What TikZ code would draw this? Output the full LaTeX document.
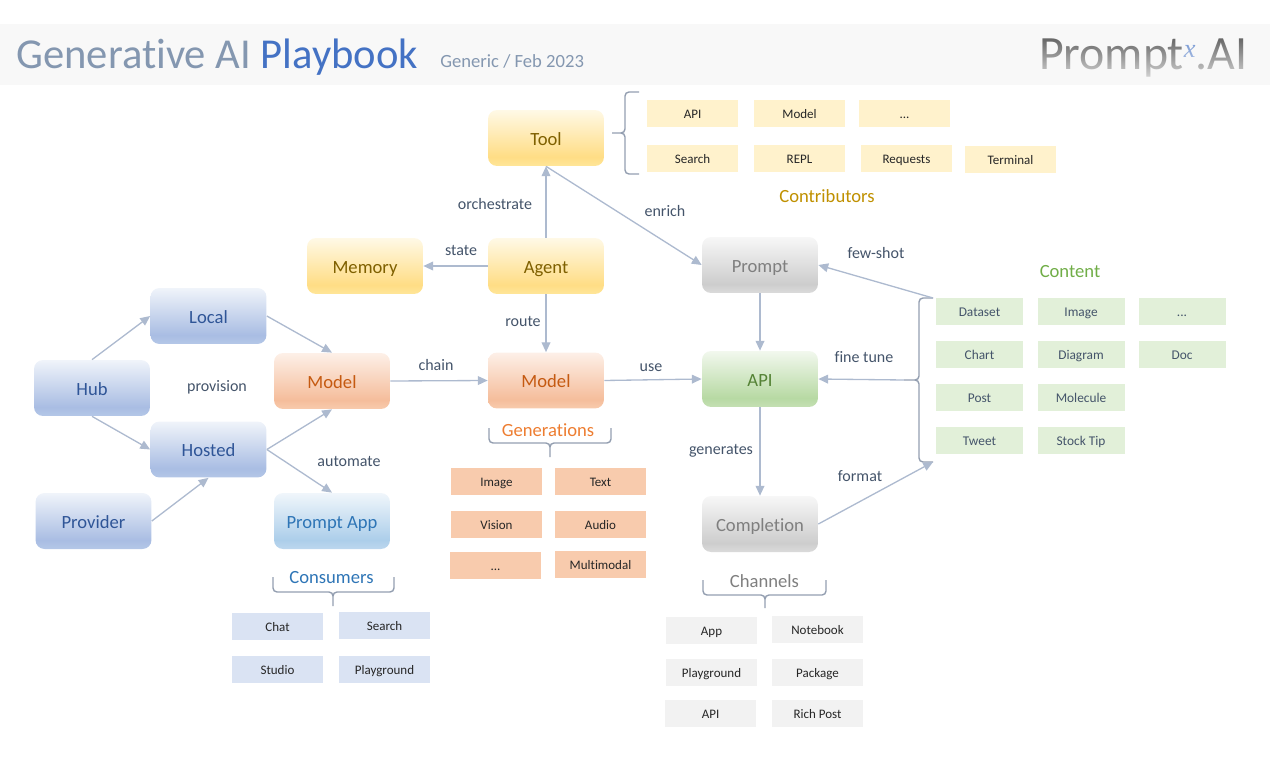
\documentclass[tikz,border=0pt]{standalone}
\usepackage{fontspec}
\setmainfont{Carlito}[Ligatures=NoCommon]
\newfontfamily\logofont{Liberation Serif}
\usepackage{xcolor}
\usetikzlibrary{calc,arrows.meta,fadings}

\definecolor{bandgray}{HTML}{F8F8F8}
\definecolor{linkblue}{HTML}{ADBACF}
\definecolor{slatetxt}{HTML}{44546A}
\definecolor{titlegray}{HTML}{8497B0}
\definecolor{titleblue}{HTML}{4472C4}

\definecolor{hubA}{HTML}{F0F4FA}\definecolor{hubB}{HTML}{A9BDE3}\definecolor{hubC}{HTML}{B4C7E7}
\definecolor{toolA}{HTML}{FFF9E6}\definecolor{toolB}{HTML}{FFDD85}\definecolor{toolC}{HTML}{FFE699}
\definecolor{modelA}{HTML}{FDF0E8}\definecolor{modelB}{HTML}{F5BD9B}\definecolor{modelC}{HTML}{F8CBAD}
\definecolor{appA}{HTML}{F0F6FB}\definecolor{appB}{HTML}{ACCEEA}\definecolor{appC}{HTML}{BDD7EE}
\definecolor{apiA}{HTML}{F2F8EE}\definecolor{apiB}{HTML}{B7D9A3}\definecolor{apiC}{HTML}{C5E0B4}
\definecolor{grayA}{HTML}{F7F7F7}\definecolor{grayB}{HTML}{CDCDCD}\definecolor{grayC}{HTML}{DBDBDB}

\pgfdeclareverticalshading{hubshade}{100bp}{color(0bp)=(hubC); color(25bp)=(hubC); color(33bp)=(hubB); color(75bp)=(hubA); color(100bp)=(hubA)}
\pgfdeclareverticalshading{toolshade}{100bp}{color(0bp)=(toolC); color(25bp)=(toolC); color(33bp)=(toolB); color(75bp)=(toolA); color(100bp)=(toolA)}
\pgfdeclareverticalshading{modelshade}{100bp}{color(0bp)=(modelC); color(25bp)=(modelC); color(33bp)=(modelB); color(75bp)=(modelA); color(100bp)=(modelA)}
\pgfdeclareverticalshading{appshade}{100bp}{color(0bp)=(appC); color(25bp)=(appC); color(33bp)=(appB); color(75bp)=(appA); color(100bp)=(appA)}
\pgfdeclareverticalshading{apishade}{100bp}{color(0bp)=(apiC); color(25bp)=(apiC); color(33bp)=(apiB); color(75bp)=(apiA); color(100bp)=(apiA)}
\pgfdeclareverticalshading{grayshade}{100bp}{color(0bp)=(grayC); color(25bp)=(grayC); color(33bp)=(grayB); color(75bp)=(grayA); color(100bp)=(grayA)}

\tikzset{
  boxnode/.style={rounded corners=.18cm,minimum width=2.32cm,minimum height=1.12cm,inner sep=0pt,text height=8pt,text depth=0pt,font=\fontsize{10.6}{12}\selectfont},
  hubbox/.style={boxnode,shading=hubshade,text={rgb,255:red,47;green,85;blue,151}},
  toolbox/.style={boxnode,shading=toolshade,text={rgb,255:red,127;green,96;blue,0}},
  modelbox/.style={boxnode,shading=modelshade,text={rgb,255:red,197;green,90;blue,17}},
  appbox/.style={boxnode,shading=appshade,text={rgb,255:red,46;green,117;blue,182}},
  apibox/.style={boxnode,shading=apishade,text={rgb,255:red,84;green,130;blue,53}},
  graybox/.style={boxnode,shading=grayshade,text={rgb,255:red,127;green,127;blue,127}},
  tagnode/.style={minimum width=1.82cm,minimum height=.54cm,inner sep=0pt,text height=5.7pt,text depth=0pt,text={rgb,255:red,38;green,38;blue,38},font=\fontsize{7.4}{9}\selectfont},
  yellowtag/.style={tagnode,fill={rgb,255:red,255;green,242;blue,204}},
  orangetag/.style={tagnode,fill={rgb,255:red,248;green,203;blue,173}},
  bluetag/.style={tagnode,fill={rgb,255:red,218;green,227;blue,243}},
  graytag/.style={tagnode,fill={rgb,255:red,242;green,242;blue,242}},
  greentag/.style={tagnode,minimum width=1.74cm,text=slatetxt,font=\fontsize{7.6}{9}\selectfont,fill={rgb,255:red,226;green,240;blue,217}},
  linklabel/.style={inner sep=0pt,text=slatetxt,font=\fontsize{9.1}{11}\selectfont},
  grouplabel/.style={inner sep=0pt,font=\fontsize{10.6}{12}\selectfont},
  link/.style={draw=linkblue,line width=.75pt,-{Triangle[length=5.6pt,width=5pt]}},
  bracket/.style={draw=linkblue!85!black,line width=.8pt,rounded corners=.08cm}
}

\begin{document}
\begin{tikzpicture}[x=.02cm,y=-.02cm]
\useasboundingbox (0,0) rectangle (1270,760);
\fill[bandgray] (0,24) rectangle (1270,85);

% title
\node[anchor=base west,inner sep=0pt,font=\fontsize{24.25}{28}\selectfont] (title) at (16,69) {\textcolor{titlegray}{Generative AI} \textcolor{titleblue}{Playbook}};
\node[anchor=base west,inner sep=0pt,text=titlegray,font=\fontsize{10.6}{12}\selectfont] (subtitle) at (440,68) {Generic / Feb 2023};
\node[anchor=base east,inner sep=0pt,text=black!62,font=\fontsize{27.2}{30}\selectfont] (logo) at (1248,70) {Prompt\raisebox{.27em}{\textcolor{titleblue!80}{\logofont\fontsize{15}{15}\selectfont\itshape x}}.AI};
\fill[bandgray,path fading=north,fill opacity=.8] (1030,36) rectangle (1255,80);

% main boxes
\node[toolbox] (tool) at (546,138) {Tool};
\node[toolbox] (agent) at (546,266) {Agent};
\node[toolbox] (memory) at (365,266) {Memory};
\node[hubbox] (local) at (208.5,316) {Local};
\node[hubbox] (hub) at (92,388) {Hub};
\node[hubbox] (hosted) at (208.5,449.5) {Hosted};
\node[hubbox] (provider) at (93.5,521) {Provider};
\node[modelbox] (modelA) at (332,381) {Model};
\node[modelbox] (modelB) at (546,380.5) {Model};
\node[appbox] (app) at (332,521) {Prompt App};
\node[graybox] (prompt) at (760,265) {Prompt};
\node[apibox] (api) at (760,379) {API};
\node[graybox] (completion) at (760,524) {Completion};

% contributors
\node[yellowtag] (c1) at (692.5,113.5) {API};
\node[yellowtag] (c2) at (799.5,113.5) {Model};
\node[yellowtag] (c3) at (904.5,113.5) {...};
\node[yellowtag] (c4) at (692.5,158.5) {Search};
\node[yellowtag] (c5) at (799.5,158.5) {REPL};
\node[yellowtag] (c6) at (906.5,158.5) {Requests};
\node[yellowtag] (c7) at (1010.5,159.5) {Terminal};
\node[grouplabel,text={rgb,255:red,191;green,144;blue,0}] (contributors) at (827,196) {Contributors};

% generations
\node[orangetag] (g1) at (496.5,481.5) {Image};
\node[orangetag] (g2) at (600.5,481.5) {Text};
\node[orangetag] (g3) at (496.5,524.5) {Vision};
\node[orangetag] (g4) at (600.5,524.5) {Audio};
\node[orangetag] (g5) at (495.5,565.5) {...};
\node[orangetag] (g6) at (600.5,564.5) {Multimodal};
\node[grouplabel,text={rgb,255:red,237;green,125;blue,49}] (generations) at (548,430) {Generations};

% consumers
\node[bluetag] (u1) at (277.5,626.5) {Chat};
\node[bluetag] (u2) at (384.5,625.5) {Search};
\node[bluetag] (u3) at (277.5,669.5) {Studio};
\node[bluetag] (u4) at (384.5,669.5) {Playground};
\node[grouplabel,text={rgb,255:red,46;green,117;blue,182}] (consumers) at (331.5,578) {Consumers};

% channels
\node[graytag] (h1) at (711.5,630) {App};
\node[graytag] (h2) at (817.5,629.5) {Notebook};
\node[graytag] (h3) at (711.5,672.5) {Playground};
\node[graytag] (h4) at (817.5,672.5) {Package};
\node[graytag] (h5) at (710.5,713.5) {API};
\node[graytag] (h6) at (817.5,713.5) {Rich Post};
\node[grouplabel,text={rgb,255:red,127;green,127;blue,127}] (channels) at (764.5,581) {Channels};

% content
\node[greentag] (t1) at (979.5,311.5) {Dataset};
\node[greentag] (t2) at (1081,311.5) {Image};
\node[greentag] (t3) at (1182,311.5) {...};
\node[greentag] (t4) at (979.5,354.5) {Chart};
\node[greentag] (t5) at (1081,354.5) {Diagram};
\node[greentag] (t6) at (1182,354.5) {Doc};
\node[greentag] (t7) at (979.5,397.5) {Post};
\node[greentag] (t8) at (1081,397.5) {Molecule};
\node[greentag] (t9) at (979.5,440.5) {Tweet};
\node[greentag] (t10) at (1081,440.5) {Stock Tip};
\node[grouplabel,text={rgb,255:red,112;green,173;blue,71}] (content) at (1070,272) {Content};

% brackets
\coordinate (contentTop) at (933,298);
\coordinate (contentTip) at (904,380);
\coordinate (contentEnd) at (933,462);
\draw[bracket] (contentTop) -- (919,298) -- (919,380) -- (contentTip) (contentTip) -- (919,380) -- (919,462) -- (contentEnd);
\draw[bracket] (639,92) -- (625,92) -- (625,133) -- (612,133) (612,133) -- (625,133) -- (625,174) -- (639,174);
\draw[bracket] (489,428) -- (489,443) -- (550,443) -- (550,457) (550,457) -- (550,443) -- (611,443) -- (611,428);
\draw[bracket] (273,577) -- (273,592) -- (333,592) -- (333,606) (333,606) -- (333,592) -- (394,592) -- (394,577);
\draw[bracket] (703,580) -- (703,595) -- (765,595) -- (765,608) (765,608) -- (765,595) -- (826,595) -- (826,580);

% links
\draw[link] (hub.north)--(local.west);
\draw[link] (hub.south)--(hosted.west);
\draw[link] (provider.east)--(hosted.south);
\draw[link] (local.east)--(modelA.north);
\draw[link] (hosted.east)--(modelA.south);
\draw[link] (hosted.east)--(app.north);
\draw[link] (modelA.east)--(modelB.west);
\draw[link] (modelB.east)--(api.west);
\draw[link] (agent.north)--(tool.south);
\draw[link] (agent.west)--(memory.east);
\draw[link] (agent.south)--(modelB.north);
\draw[link] (tool.south)--(prompt.west);
\draw[link] (prompt.south)--(api.north);
\draw[link] (api.south)--(completion.north);
\draw[link] (contentTop)--(prompt.east);
\draw[link] (contentTip)--(api.east);
\draw[link] (completion.east)--(contentEnd);

% link labels
\node[linklabel] (orchLbl) at (495,204) {orchestrate};
\node[linklabel] (stateLbl) at (461,251) {state};
\node[linklabel] (routeLbl) at (523,322) {route};
\node[linklabel] (enrichLbl) at (665,211) {enrich};
\node[linklabel] (fewLbl) at (876,253) {few-shot};
\node[linklabel] (tuneLbl) at (864,357) {fine tune};
\node[linklabel] (useLbl) at (651,368) {use};
\node[linklabel] (chainLbl) at (436,365) {chain};
\node[linklabel] (provLbl) at (217,387) {provision};
\node[linklabel] (autoLbl) at (349,461) {automate};
\node[linklabel] (genLbl) at (721,451) {generates};
\node[linklabel] (formatLbl) at (860,476) {format};
\end{tikzpicture}
\end{document}
